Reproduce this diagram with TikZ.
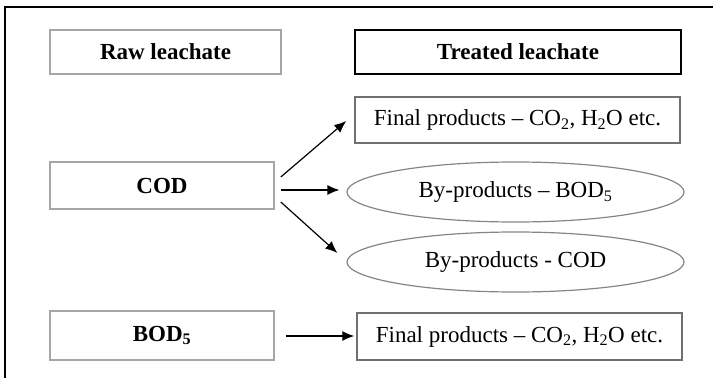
\documentclass[tikz,border=0pt]{standalone}
\usepackage{fontspec}
\setmainfont{Liberation Serif}
\usepackage{tikz}
\usetikzlibrary{shapes.geometric, arrows.meta}
\definecolor{lightframe}{HTML}{A6A6A6}
\definecolor{midframe}{HTML}{707070}
\definecolor{ellframe}{HTML}{858585}
\newcommand{\boxfont}{\fontsize{23}{27}\selectfont}
\tikzstyle{inbox} = [rectangle, minimum width=224pt, minimum height=47pt, text centered, draw=lightframe, line width=1.6pt, font=\boxfont\bfseries]
\tikzstyle{header} = [rectangle, minimum width=326pt, minimum height=44pt, text centered, draw=black, line width=1.4pt, font=\boxfont\bfseries]
\tikzstyle{product} = [rectangle, minimum width=325pt, minimum height=46pt, text centered, draw=midframe, line width=1.5pt, font=\boxfont]
\tikzstyle{byproduct} = [ellipse, minimum width=337pt, minimum height=60pt, inner sep=0pt, text centered, draw=ellframe, line width=1.2pt, font=\boxfont]
\tikzstyle{arrow} = [line width=1.2pt,->,>={Latex[length=12pt,width=10pt]}]

\begin{document}
\begin{tikzpicture}[x=1pt, y=-1pt]

    \useasboundingbox (0,0) rectangle (713,378);
    % Frame
    \draw [line width=2.2pt] (5,378) -- (5,7) -- (713,7);

    % Nodes
    \node (raw) [inbox, minimum width=231pt, minimum height=44pt] at (165.5,52) {Raw leachate};
    \node (treated) [header] at (518,52) {Treated leachate};
    \node (final1) [product] at (517.5,120) {Final products -- CO\textsubscript{2}, H\textsubscript{2}O etc.};
    \node (cod) [inbox] at (162,185.5) {COD};
    \node (byBOD) [byproduct] at (515.5,192) {By-products -- BOD\textsubscript{5}};
    \node (byCOD) [byproduct] at (515.5,262) {By-products - COD};
    \node (bod) [inbox, minimum height=49pt] at (162,335.5) {BOD\textsubscript{5}};
    \node (final2) [product, minimum height=47pt] at (519.5,336.5) {Final products -- CO\textsubscript{2}, H\textsubscript{2}O etc.};

    % Arrows
    \draw [arrow] ([xshift=6pt,yshift=8.5pt]cod.east) -- ([xshift=-8pt,yshift=-1pt]final1.west);
    \draw [arrow] ([xshift=6pt,yshift=-4.5pt]cod.east) -- ([xshift=-7pt,yshift=2pt]byBOD.west);
    \draw [arrow] ([xshift=6pt,yshift=-16.5pt]cod.east) -- ([xshift=-9pt,yshift=9pt]byCOD.west);
    \draw [arrow] ([xshift=11pt,yshift=-0.5pt]bod.east) -- ([xshift=-2pt,yshift=0.5pt]final2.west);

\end{tikzpicture}
\end{document}
